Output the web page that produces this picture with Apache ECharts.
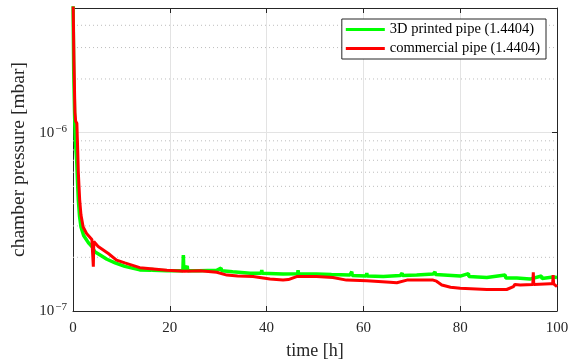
<!DOCTYPE html>
<html>
<head>
<meta charset="utf-8">
<script src="https://cdn.jsdelivr.net/npm/echarts@6/dist/echarts.min.js"></script>
<style>html,body{margin:0;padding:0;background:#fff}#c{width:572px;height:359px}</style>
</head>
<body>
<div id="c"></div>
<script>
const seriesNames = ['3D printed pipe (1.4404)', 'commercial pipe (1.4404)'];
const xTicks = [0, 20, 40, 60, 80, 100];
const yMajorTicks = [1e-7, 1e-6];
const yMinorGrid = [2e-7, 3e-7, 4e-7, 5e-7, 6e-7, 7e-7, 8e-7, 9e-7, 2e-6, 3e-6, 4e-6];

const greenTime = [0, 0.15, 0.35, 0.55, 0.76, 0.95, 1.1, 1.35, 1.65, 2.2, 3.2, 4.0, 4.5, 5.6, 7.0, 8.7, 10.7, 13.8, 16.2, 16.3, 16.4, 19.4, 22.7, 22.8, 22.9, 23.6, 23.7, 26, 29.7, 30.6, 30.7, 33, 36.6, 38.9, 39.0, 39.1, 43.4, 46.4, 46.5, 46.6, 50.3, 53.4, 53.5, 53.6, 57.2, 57.6, 57.7, 60.6, 60.7, 60.8, 64.1, 67.6, 68.0, 68.1, 71, 74.4, 74.8, 74.9, 80, 81.7, 81.8, 85.5, 89.3, 89.4, 91.7, 94.4, 96.8, 96.9, 99.2, 100];
const greenPressure = [6e-6, 2.2e-6, 1.2e-6, 8.5e-7, 7.0e-7, 5.2e-7, 4.2e-7, 3.4e-7, 2.96e-7, 2.65e-7, 2.41e-7, 2.28e-7, 2.15e-7, 2.06e-7, 1.95e-7, 1.86e-7, 1.78e-7, 1.70e-7, 1.69e-7, 1.74e-7, 1.69e-7, 1.68e-7, 1.68e-7, 2.06e-7, 1.68e-7, 1.79e-7, 1.68e-7, 1.68e-7, 1.69e-7, 1.74e-7, 1.68e-7, 1.66e-7, 1.63e-7, 1.63e-7, 1.70e-7, 1.63e-7, 1.61e-7, 1.62e-7, 1.69e-7, 1.62e-7, 1.61e-7, 1.60e-7, 1.64e-7, 1.60e-7, 1.59e-7, 1.66e-7, 1.58e-7, 1.57e-7, 1.63e-7, 1.57e-7, 1.56e-7, 1.58e-7, 1.63e-7, 1.58e-7, 1.59e-7, 1.61e-7, 1.66e-7, 1.60e-7, 1.57e-7, 1.62e-7, 1.56e-7, 1.54e-7, 1.59e-7, 1.53e-7, 1.53e-7, 1.51e-7, 1.57e-7, 1.52e-7, 1.55e-7, 1.54e-7];

const redTime = [0, 0.2, 0.4, 0.55, 0.8, 0.9, 0.97, 1.1, 1.24, 1.38, 1.65, 2.1, 2.8, 3.9, 4.1, 4.2, 4.3, 5.2, 7.3, 9, 10.7, 13.8, 19.4, 23, 26.2, 29.7, 31.8, 34, 37.2, 40.7, 43.4, 44.5, 46.2, 50.3, 53.7, 56.5, 60.7, 65.5, 66.9, 69, 71, 74.4, 75.1, 76.2, 78, 80, 85.5, 89.6, 91, 91.3, 91.4, 92.4, 95.0, 95.1, 95.2, 98.6, 99.1, 99.2, 99.3, 100];
const redPressure = [6e-6, 2.5e-6, 1.3e-6, 1.16e-6, 1.13e-6, 9.2e-7, 8.0e-7, 6.0e-7, 5.0e-7, 4.2e-7, 3.45e-7, 2.96e-7, 2.72e-7, 2.52e-7, 2.48e-7, 1.77e-7, 2.45e-7, 2.3e-7, 2.1e-7, 1.93e-7, 1.86e-7, 1.75e-7, 1.69e-7, 1.67e-7, 1.68e-7, 1.65e-7, 1.59e-7, 1.57e-7, 1.56e-7, 1.51e-7, 1.49e-7, 1.50e-7, 1.56e-7, 1.56e-7, 1.54e-7, 1.49e-7, 1.48e-7, 1.45e-7, 1.44e-7, 1.49e-7, 1.49e-7, 1.49e-7, 1.47e-7, 1.40e-7, 1.36e-7, 1.34e-7, 1.32e-7, 1.32e-7, 1.37e-7, 1.41e-7, 1.38e-7, 1.40e-7, 1.41e-7, 1.65e-7, 1.41e-7, 1.42e-7, 1.42e-7, 1.59e-7, 1.42e-7, 1.37e-7];

const FONT = 'Liberation Serif';
const AX = '#262626';

function pairs(t, v) { return t.map((x, i) => [x, v[i]]); }
function isPow10(v) { const l = Math.log10(v); return Math.abs(l - Math.round(l)) < 1e-6; }

const chart = echarts.init(document.getElementById('c'), null, {renderer: 'canvas'});
const common = {
  axisLine: {show: true, onZero: false, lineStyle: {color: AX, width: 1}},
  axisTick: {show: true, inside: true, length: 5, lineStyle: {color: AX}},
};

const minorSeries = yMinorGrid.map(v => ({
  type: 'line', name: 'minor-' + v, silent: true, z: 1,
  data: [[xTicks[0], v], [xTicks[xTicks.length - 1], v]],
  showSymbol: false, symbol: 'none',
  lineStyle: {color: '#bdbdbd', width: 1, type: [1, 3]},
  tooltip: {show: false}
}));

chart.setOption({
  animation: false,
  backgroundColor: '#fff',
  grid: {left: 73, right: 15, top: 8, bottom: 48, containLabel: false, outerBoundsMode: 'none'},
  legend: {
    data: seriesNames.map(n => ({name: n, icon: 'rect'})),
    orient: 'vertical',
    right: 26, top: 19,
    backgroundColor: '#fff',
    borderColor: AX, borderWidth: 1,
    padding: [3, 6, 3, 4],
    itemWidth: 39, itemHeight: 3, itemGap: 4,
    textStyle: {fontFamily: FONT, fontSize: 14.5, color: '#000', lineHeight: 15}
  },
  xAxis: [
    Object.assign({
      type: 'value', min: 0, max: 100, interval: 20, position: 'bottom',
      name: 'time [h]', nameLocation: 'middle', nameGap: 31,
      nameTextStyle: {fontFamily: FONT, fontSize: 18, color: AX},
      axisLabel: {fontFamily: FONT, fontSize: 15, color: AX, margin: 10},
      splitLine: {show: true, lineStyle: {color: '#e3e3e3', width: 1}}
    }, common),
    Object.assign({
      type: 'value', min: 0, max: 100, interval: 20, position: 'top',
      axisLabel: {show: false}, splitLine: {show: false}
    }, common)
  ],
  yAxis: [
    Object.assign({
      type: 'log', logBase: 10, min: 1e-7, max: 5e-6, position: 'left',
      name: 'chamber pressure [mbar]', nameLocation: 'middle', nameGap: 33,
      nameTextStyle: {fontFamily: FONT, fontSize: 19.5, color: AX},
      axisLabel: {
        margin: 6,
        formatter: function (v) {
          if (!isPow10(v)) return '';
          return '{b|10}{s|−' + Math.abs(Math.round(Math.log10(v))) + '}';
        },
        rich: {
          b: {fontFamily: FONT, fontSize: 15, color: AX},
          s: {fontFamily: FONT, fontSize: 11, color: AX, padding: [0, 0, 8, 1]}
        }
      },
      splitLine: {show: true, lineStyle: {color: '#e3e3e3', width: 1}}
    }, common),
    Object.assign({
      type: 'log', logBase: 10, min: 1e-7, max: 5e-6, position: 'right',
      axisLabel: {show: false}, splitLine: {show: false}
    }, common)
  ],
  series: minorSeries.concat([
    {
      type: 'line', name: seriesNames[0], data: pairs(greenTime, greenPressure),
      showSymbol: false, symbol: 'none', z: 3, clip: true,
      lineStyle: {color: '#00ff00', width: 3.5}, itemStyle: {color: '#00ff00'}
    },
    {
      type: 'line', name: seriesNames[1], data: pairs(redTime, redPressure),
      showSymbol: false, symbol: 'none', z: 4, clip: true,
      lineStyle: {color: '#ff0000', width: 3}, itemStyle: {color: '#ff0000'}
    }
  ])
});
</script>
</body>
</html>
